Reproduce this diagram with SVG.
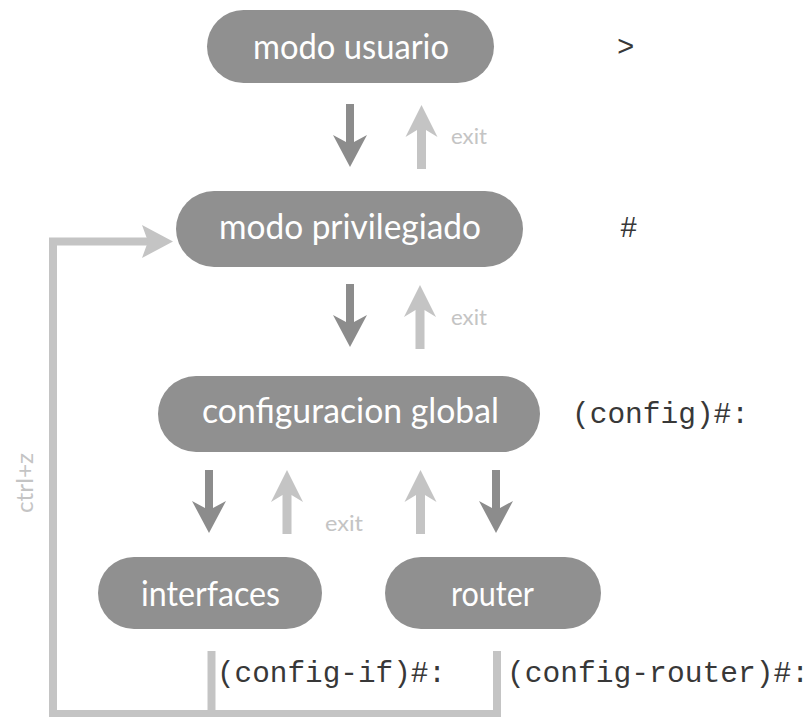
<svg xmlns="http://www.w3.org/2000/svg" width="803" height="717" viewBox="0 0 803 717">
  <style>
    .pill { fill: #909090; }
    .label { font-family: Lato, "Open Sans", "Liberation Sans", sans-serif; font-size: 35px; fill: #ffffff; text-anchor: middle; }
    .prompt { font-family: "Liberation Mono", "Courier New", monospace; font-size: 29px; fill: #383838; }
    .hint { font-family: Lato, "Open Sans", "Liberation Sans", sans-serif; fill: #c4c4c4; }
    .enter { fill: #8c8c8c; }
    .leave { fill: #c4c4c4; }
    .loop { fill: none; stroke: #c4c4c4; stroke-width: 8; stroke-linejoin: miter; }
  </style>
  <defs>
    <!-- arrow shapes, origin at the tip -->
    <path id="arrow-down" d="M-4,-63 H4 V-25 L17,-32 L0,0 L-17,-32 L-4,-25 Z"/>
    <path id="arrow-up" d="M-4.5,64 H4.5 V25 L16,32 L0,0 L-16,32 L-4.5,25 Z"/>
  </defs>

  <rect width="803" height="717" fill="#ffffff"/>

  <!-- mode transitions -->
  <g id="connectors">
    <use href="#arrow-down" class="enter" transform="translate(350,167)"/>
    <use href="#arrow-up" class="leave" transform="translate(421.5,105)"/>
    <text class="hint" x="451" y="144" font-size="22" textLength="36" lengthAdjust="spacingAndGlyphs">exit</text>

    <use href="#arrow-down" class="enter" transform="translate(350,347)"/>
    <use href="#arrow-up" class="leave" transform="translate(420,285)"/>
    <text class="hint" x="451" y="325" font-size="22" textLength="36" lengthAdjust="spacingAndGlyphs">exit</text>

    <use href="#arrow-down" class="enter" transform="translate(209,533)"/>
    <use href="#arrow-up" class="leave" transform="translate(287,470)"/>
    <text class="hint" x="325" y="531" font-size="22" textLength="38" lengthAdjust="spacingAndGlyphs">exit</text>
    <use href="#arrow-up" class="leave" transform="translate(420.5,470)"/>
    <use href="#arrow-down" class="enter" transform="translate(496,533)"/>

    <!-- ctrl+z return path to privileged mode -->
    <path class="loop" d="M497,651 V714 H53 V241.5 H152"/>
    <path class="loop" d="M211.5,651 V714"/>
    <path class="leave" d="M173,241.5 L142,225 L148,241.5 L142,258 Z"/>
    <text class="hint" font-size="23" text-anchor="middle" textLength="60" lengthAdjust="spacingAndGlyphs" transform="translate(33,483) rotate(-90)">ctrl+z</text>
  </g>

  <g id="modo-usuario">
    <rect class="pill" x="207" y="10" width="287" height="73" rx="36.5"/>
    <text class="label" x="351" y="59" textLength="196" lengthAdjust="spacingAndGlyphs">modo usuario</text>
    <text class="prompt" x="617" y="56">&gt;</text>
  </g>

  <g id="modo-privilegiado">
    <rect class="pill" x="176" y="191" width="347" height="76" rx="38"/>
    <text class="label" x="350" y="239" textLength="262" lengthAdjust="spacingAndGlyphs">modo privilegiado</text>
    <text class="prompt" x="620" y="237">#</text>
  </g>

  <g id="configuracion-global">
    <rect class="pill" x="158" y="376" width="382" height="76" rx="38"/>
    <text class="label" x="350.5" y="423" textLength="297" lengthAdjust="spacingAndGlyphs">configuracion global</text>
    <text class="prompt" x="572" y="423" textLength="177" lengthAdjust="spacingAndGlyphs">(config)#:</text>
  </g>

  <g id="interfaces">
    <rect class="pill" x="98" y="557" width="224" height="72" rx="36"/>
    <text class="label" x="210.5" y="606" textLength="139" lengthAdjust="spacingAndGlyphs">interfaces</text>
    <text class="prompt" x="217" y="682" textLength="229" lengthAdjust="spacingAndGlyphs">(config-if)#:</text>
  </g>

  <g id="router">
    <rect class="pill" x="385" y="557" width="216" height="72" rx="36"/>
    <text class="label" x="492.5" y="606" textLength="83" lengthAdjust="spacingAndGlyphs">router</text>
    <text class="prompt" x="507" y="682" textLength="302" lengthAdjust="spacingAndGlyphs">(config-router)#:</text>
  </g>
</svg>
